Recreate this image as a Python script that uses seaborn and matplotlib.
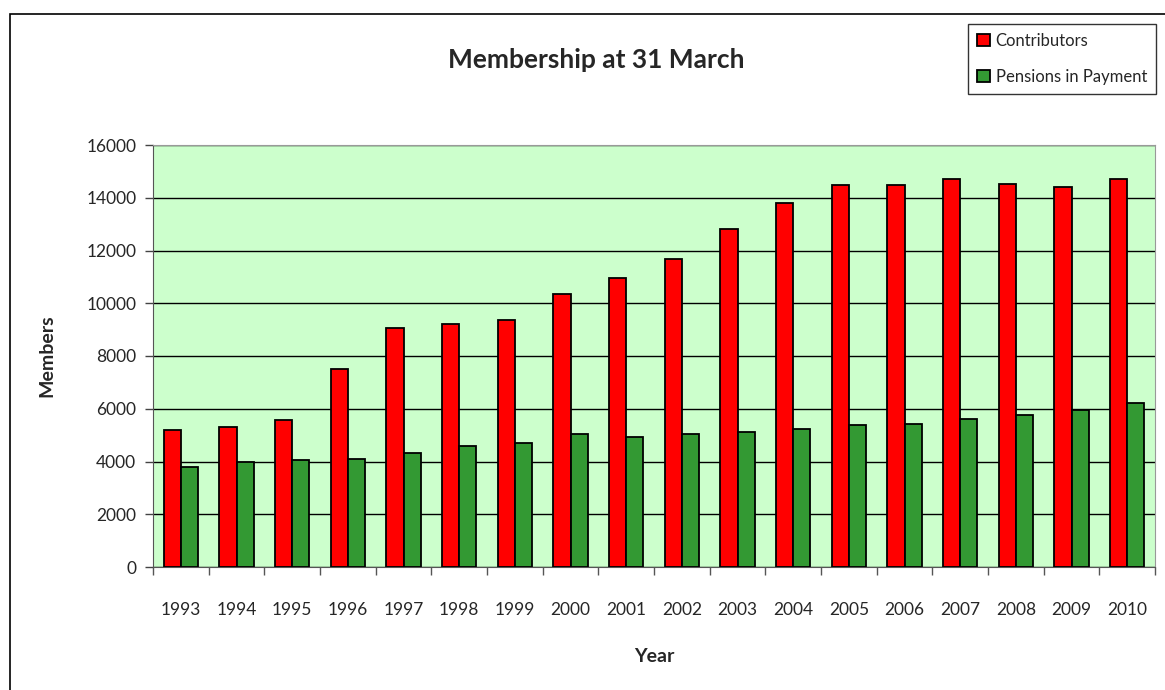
import numpy as np
import pandas as pd
import matplotlib
matplotlib.use("Agg")
import matplotlib.pyplot as plt
import seaborn as sns
from matplotlib.patches import Rectangle

years = [str(y) for y in range(1993, 2011)]
contributors = [5200, 5320, 5570, 7490, 9080, 9230, 9360, 10340, 10950,
                11680, 12800, 13800, 14470, 14470, 14720, 14530, 14400, 14720]
pensions = [3780, 3980, 4040, 4100, 4310, 4580, 4720, 5040, 4910,
            5040, 5100, 5240, 5370, 5440, 5630, 5770, 5970, 6230]

df = pd.DataFrame({
    "Year": years * 2,
    "Members": contributors + pensions,
    "Series": ["Contributors"] * len(years) + ["Pensions in Payment"] * len(years),
})

sns.set_style("white")
plt.rcParams["font.family"] = ["Lato", "DejaVu Sans"]

fig = plt.figure(figsize=(11.65, 6.9), dpi=100)
ax = fig.add_axes([153 / 1165, 1 - 567 / 690, (1155 - 153) / 1165, (567 - 145) / 690])

sns.barplot(data=df, x="Year", y="Members", hue="Series",
            palette={"Contributors": "#ff0000", "Pensions in Payment": "#339933"},
            width=0.62, edgecolor="black", linewidth=1.3, saturation=1,
            ax=ax, zorder=3)

ax.set_facecolor("#ccffcc")
ax.set_ylim(0, 16000)
ax.set_xlim(-0.5, len(years) - 0.5)
ax.set_yticks(range(0, 16001, 2000))
ax.yaxis.grid(True, color="black", linewidth=1, zorder=1)
ax.set_axisbelow(True)
for s in ["top", "right"]:
    ax.spines[s].set_color("#999999")
for s in ["left", "bottom"]:
    ax.spines[s].set_color("#555555")
ax.tick_params(axis="y", length=6, width=1, color="#444444", labelsize=12.5, pad=6, left=True)
ax.tick_params(axis="x", which="major", length=0, labelsize=12.5, pad=25)
ax.set_xticks(np.arange(-0.5, len(years), 1), minor=True)
ax.tick_params(axis="x", which="minor", length=6, width=1, color="#555555", bottom=True)

ax.set_xlabel("Year", fontsize=14, fontweight="bold", labelpad=22)
ax.set_ylabel("Members", fontsize=14, fontweight="bold", labelpad=22)

fig.text(596 / 1165, 1 - 60 / 690, "Membership at 31 March", ha="center", va="center",
         fontsize=19, fontweight="bold")

leg = ax.legend(loc="upper left", bbox_to_anchor=(968 / 1165, 1 - 24 / 690),
                bbox_transform=fig.transFigure, frameon=True, fancybox=False,
                fontsize=12, handlelength=0.75, handleheight=0.75, handletextpad=0.35,
                labelspacing=1.2, borderpad=0.55, borderaxespad=0, title=None)
leg.get_frame().set_edgecolor("black")
leg.get_frame().set_linewidth(1)

fig.patches.append(Rectangle((10 / 1165, -0.1), 1.2, 1 - 14 / 690 + 0.1,
                             transform=fig.transFigure, fill=False,
                             edgecolor="black", linewidth=1.2))

fig.savefig("out.png", dpi=100)
